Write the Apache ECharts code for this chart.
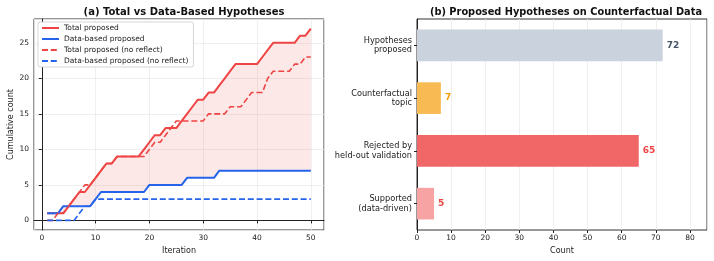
<!DOCTYPE html>
<html>
<head>
<meta charset="utf-8">
<script src="https://cdn.jsdelivr.net/npm/echarts@6/dist/echarts.min.js"></script>
<style>
html,body{margin:0;padding:0;background:#fff;}
#main{width:714px;height:261px;}
</style>
</head>
<body>
<div id="main"></div>
<script>
// (a) cumulative counts per iteration
var iterations = [1,2,3,4,5,6,7,8,9,10,11,12,13,14,15,16,17,18,19,20,21,22,23,24,25,
                  26,27,28,29,30,31,32,33,34,35,36,37,38,39,40,41,42,43,44,45,46,47,48,49,50];
var totalProposed = [1,1,1,1,2,3,4,4,5,6,7,8,8,9,9,9,9,9,10,11,12,12,13,13,13,
                     14,15,16,17,17,18,18,19,20,21,22,22,22,22,22,23,24,25,25,25,25,25,26,26,27];
var dataBased = [1,1,1,2,2,2,2,2,2,3,4,4,4,4,4,4,4,4,4,5,5,5,5,5,5,
                 5,6,6,6,6,6,6,7,7,7,7,7,7,7,7,7,7,7,7,7,7,7,7,7,7];
var totalNoReflect = [0,0,1,1,2,3,4,5,5,6,7,8,8,9,9,9,9,9,9,10,11,11,12,13,14,
                      14,14,14,14,14,15,15,15,15,16,16,16,17,18,18,18,20,21,21,21,21,22,22,23,23];
var dataBasedNoReflect = [0,0,0,0,0,0,1,2,2,3,3,3,3,3,3,3,3,3,3,3,3,3,3,3,3,
                          3,3,3,3,3,3,3,3,3,3,3,3,3,3,3,3,3,3,3,3,3,3,3,3,3];

// (b) counterfactual data
var barCategories = ['Hypotheses\nproposed', 'Counterfactual\ntopic', 'Rejected by\nheld-out validation', 'Supported\n(data-driven)'];
var barValues = [72, 7, 65, 5];
var barColors = ['#cad2dd', '#f8bb54', '#f16767', '#f8a3a3'];
var labelColors = ['#475569', '#f59e0b', '#ef4444', '#ef4444'];

var RED = '#ef4444', BLUE = '#2563eb';
var FONT = 'DejaVu Sans';

function pairs(ys) {
    return iterations.map(function (x, i) { return [x, ys[i]]; });
}

var chart = echarts.init(document.getElementById('main'));

var axisLineStyle = {color: '#222', width: 1};
var gridLine = {show: true, lineStyle: {color: '#ebebeb', width: 0.8}};
var tickLabel = {color: '#222', fontSize: 7.5, fontFamily: FONT};

// shaded band between total and data-based, one polygon through the axis scales
function renderGap(params, api) {
    var pts = [];
    for (var i = 0; i < iterations.length; i++) {
        pts.push(api.coord([iterations[i], totalProposed[i]]));
    }
    for (var j = iterations.length - 1; j >= 0; j--) {
        pts.push(api.coord([iterations[j], dataBased[j]]));
    }
    return {
        type: 'polygon',
        shape: {points: pts},
        style: {fill: 'rgba(239,68,68,0.12)'}
    };
}

var option = {
    animation: false,
    backgroundColor: '#fff',
    textStyle: {fontFamily: FONT},
    title: [
        {text: '(a) Total vs Data-Based Hypotheses', left: 179, top: 2, textAlign: 'center',
         textStyle: {fontSize: 10, fontWeight: 'bold', color: '#111', fontFamily: FONT}},
        {text: '(b) Proposed Hypotheses on Counterfactual Data', left: 561, top: 2, textAlign: 'center',
         textStyle: {fontSize: 9.8, fontWeight: 'bold', color: '#111', fontFamily: FONT}}
    ],
    legend: {
        data: ['Total proposed', 'Data-based proposed', 'Total proposed (no reflect)', 'Data-based proposed (no reflect)'],
        orient: 'vertical',
        left: 38, top: 22,
        itemWidth: 17, itemHeight: 8, itemGap: 3,
        padding: [2, 5, 2, 3],
        backgroundColor: '#fff',
        borderColor: '#cccccc', borderWidth: 0.8, borderRadius: 2,
        itemStyle: {opacity: 0},
        textStyle: {fontSize: 7.5, color: '#222', fontFamily: FONT}
    },
    grid: [
        {left: 34, top: 19, width: 290, height: 211, show: true, borderColor: '#333', borderWidth: 1, containLabel: false},
        {left: 417, top: 19, width: 290, height: 211, show: true, borderColor: '#333', borderWidth: 1, containLabel: false}
    ],
    xAxis: [
        {
            type: 'value', gridIndex: 0, min: -1.45, max: 52.45, splitNumber: 5,
            name: 'Iteration', nameLocation: 'middle', nameGap: 16,
            nameTextStyle: {fontSize: 8, color: '#222', fontFamily: FONT},
            axisLine: {lineStyle: axisLineStyle},
            axisTick: {show: true, length: 3, lineStyle: {color: '#222'}},
            axisLabel: Object.assign({margin: 4, showMinLabel: false, showMaxLabel: false,
                formatter: function (v) { return v % 10 === 0 ? v : ''; }}, tickLabel),
            splitLine: gridLine
        },
        {
            type: 'value', gridIndex: 1, min: 0, max: 85, interval: 10,
            name: 'Count', nameLocation: 'middle', nameGap: 16,
            nameTextStyle: {fontSize: 8, color: '#222', fontFamily: FONT},
            axisLine: {lineStyle: axisLineStyle},
            axisTick: {show: true, length: 3, lineStyle: {color: '#222'}},
            axisLabel: Object.assign({margin: 4, showMaxLabel: false,
                formatter: function (v) { return v % 10 === 0 ? v : ''; }}, tickLabel),
            splitLine: gridLine
        }
    ],
    yAxis: [
        {
            type: 'value', gridIndex: 0, min: -1.35, max: 28.35, splitNumber: 6,
            name: 'Cumulative count', nameLocation: 'middle', nameGap: 19,
            nameTextStyle: {fontSize: 8, color: '#222', fontFamily: FONT},
            axisLine: {show: true, lineStyle: axisLineStyle},
            axisTick: {show: true, length: 3, lineStyle: {color: '#222'}},
            axisLabel: Object.assign({margin: 5, showMinLabel: false, showMaxLabel: false,
                formatter: function (v) { return v % 5 === 0 ? v : ''; }}, tickLabel),
            splitLine: gridLine
        },
        {
            type: 'category', gridIndex: 1, data: barCategories, inverse: true,
            axisLine: {show: true, lineStyle: axisLineStyle},
            axisTick: {show: true, length: 3, alignWithLabel: true, lineStyle: {color: '#222'}},
            axisLabel: {margin: 5, align: 'right', lineHeight: 9.5, color: '#222', fontSize: 8.2, fontFamily: FONT},
            splitLine: {show: false}
        }
    ],
    series: [
        {
            name: 'gap', type: 'custom', xAxisIndex: 0, yAxisIndex: 0,
            data: [0], renderItem: renderGap, silent: true, z: 1
        },
        {
            name: 'Total proposed', type: 'line', xAxisIndex: 0, yAxisIndex: 0,
            data: pairs(totalProposed), symbol: 'none', color: RED,
            lineStyle: {color: RED, width: 2}, z: 3
        },
        {
            name: 'Data-based proposed', type: 'line', xAxisIndex: 0, yAxisIndex: 0,
            data: pairs(dataBased), symbol: 'none', color: BLUE,
            lineStyle: {color: BLUE, width: 2}, z: 3
        },
        {
            name: 'Total proposed (no reflect)', type: 'line', xAxisIndex: 0, yAxisIndex: 0,
            data: pairs(totalNoReflect), symbol: 'none', color: RED,
            lineStyle: {color: RED, width: 1.6, type: [6, 2.8]}, z: 3
        },
        {
            name: 'Data-based proposed (no reflect)', type: 'line', xAxisIndex: 0, yAxisIndex: 0,
            data: pairs(dataBasedNoReflect), symbol: 'none', color: BLUE,
            lineStyle: {color: BLUE, width: 1.6, type: [6, 2.8]}, z: 3
        },
        {
            name: 'counts', type: 'bar', xAxisIndex: 1, yAxisIndex: 1,
            barWidth: '60%',
            data: barValues.map(function (v, i) {
                return {
                    value: v,
                    itemStyle: {color: barColors[i]},
                    label: {color: labelColors[i]}
                };
            }),
            label: {
                show: true, position: 'right', distance: 4,
                fontSize: 9, fontWeight: 'bold', fontFamily: FONT
            }
        }
    ]
};

chart.setOption(option);
</script>
</body>
</html>
